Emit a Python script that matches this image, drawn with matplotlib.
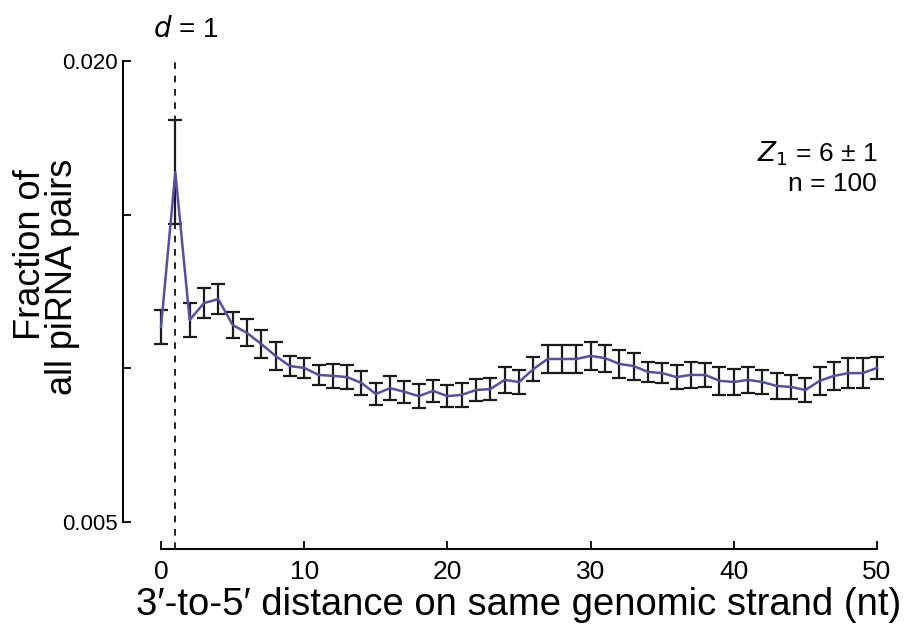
import matplotlib
matplotlib.use("Agg")
import matplotlib.pyplot as plt
import numpy as np

distance = list(range(0, 51))
fraction = [0.01135, 0.0164, 0.01158, 0.01213, 0.01226, 0.01142, 0.01116, 0.0108, 0.01041, 0.01008,
            0.01002, 0.00979, 0.00976, 0.00972, 0.00953, 0.00917, 0.00936, 0.00924, 0.0091, 0.00927,
            0.0091, 0.00914, 0.0093, 0.00933, 0.00963, 0.00956, 0.00998, 0.01031, 0.01031, 0.01031,
            0.01041, 0.01034, 0.01015, 0.01008, 0.00989, 0.00985, 0.00972, 0.00979, 0.00979, 0.0096,
            0.00956, 0.00963, 0.00956, 0.00943, 0.0094, 0.0093, 0.0096, 0.00976, 0.00985, 0.00985,
            0.01002]
error = [0.00054, 0.0017, 0.00055, 0.00048, 0.0005, 0.00042, 0.00044, 0.00045, 0.00045, 0.00033,
         0.00033, 0.00033, 0.00038, 0.00038, 0.00038, 0.00036, 0.00038, 0.00035, 0.00038, 0.00036,
         0.00037, 0.00039, 0.00036, 0.00037, 0.00043, 0.00038, 0.0004, 0.00045, 0.00045, 0.00045,
         0.00045, 0.00044, 0.00045, 0.00044, 0.00033, 0.00033, 0.00038, 0.00041, 0.0004, 0.00045,
         0.00041, 0.00043, 0.00038, 0.00041, 0.00038, 0.00039, 0.00046, 0.00046, 0.00049, 0.00049,
         0.00037]

xticks = [0, 10, 20, 30, 40, 50]
yticks = [0.005, 0.010, 0.015, 0.020]
ytick_labels = ["0.005", "", "", "0.020"]

plt.rcParams['font.family'] = ['Liberation Sans', 'DejaVu Sans']

fig = plt.figure(figsize=(9.07, 6.33), dpi=100)
ax = fig.add_axes([161/907, 1-522/633, (877-161)/907, (522-61.5)/633])

ax.errorbar(distance, fraction, yerr=error, fmt='none', ecolor='#1a1a1a',
            elinewidth=1.6, capsize=4.8, capthick=1.6, clip_on=False, zorder=2)
ax.plot(distance, fraction, color='#5550a0', lw=1.8, clip_on=False, zorder=3)

# dashed line at d = 1
ax.axvline(1, ymin=-27/460.5, ymax=1.0, color='black', lw=1.2, ls=(0, (4, 4)),
           clip_on=False, zorder=1)

ax.set_xlim(0, 50)
ax.set_ylim(0.005, 0.020)

for s in ['top', 'right']:
    ax.spines[s].set_visible(False)
ax.spines['left'].set_position(('outward', 27.4))
ax.spines['bottom'].set_position(('outward', 19.4))
ax.spines['left'].set_bounds(0.005, 0.020)
ax.spines['bottom'].set_bounds(0, 50)
ax.spines['left'].set_linewidth(1.5)
ax.spines['bottom'].set_linewidth(1.5)

ax.set_xticks(xticks)
ax.set_yticks(yticks)
ax.set_yticklabels(ytick_labels)
ax.tick_params(axis='both', direction='in', length=6, width=1.3)
ax.tick_params(axis='x', pad=8, labelsize=19)
ax.tick_params(axis='y', pad=4, labelsize=16)

ax.set_xlabel("3\u2032-to-5\u2032 distance on same genomic strand (nt)", fontsize=27.5, labelpad=2)

fig.text(30/907, 1-255/633, "Fraction of", rotation=90, fontsize=26, ha='center', va='center')
fig.text(62/907, 1-277/633, "all piRNA pairs", rotation=90, fontsize=26, ha='center', va='center')

ax.text(1.7, 1.068, r"$d$ = 1", transform=ax.get_xaxis_transform(), fontsize=20,
        ha='center', va='center')
ax.text(50, 0.01698, r"$Z_1$ = 6 ± 1", fontsize=19, ha='right', va='center')
ax.text(50, 0.01600, "n = 100", fontsize=19, ha='right', va='center')

fig.savefig("out.png", dpi=100)
